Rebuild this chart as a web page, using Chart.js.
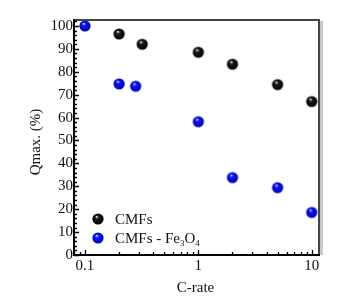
<!DOCTYPE html>
<html>
<head>
<meta charset="utf-8">
<script src="https://cdn.jsdelivr.net/npm/chart.js@4/dist/chart.umd.min.js"></script>
<style>
  html, body { margin: 0; padding: 0; background: #fff; }
  #wrap { width: 355px; height: 305px; }
</style>
</head>
<body>
<div id="wrap"><canvas id="qmaxChart" width="355" height="305"></canvas></div>
<script>
// values
const cmfRates = [0.2, 0.32, 1, 2, 5, 10];
const cmfQmax = [96.5, 92, 88.5, 83.3, 74.4, 67];
const feRates = [0.1, 0.2, 0.28, 1, 2, 5, 10];
const feQmax = [100, 74.7, 73.7, 58.2, 33.8, 29.4, 18.6];
const yTicks = [0, 10, 20, 30, 40, 50, 60, 70, 80, 90, 100];
const xTicks = [0.1, 1, 10];
const xTickLabels = ["0.1", "1", "10"];

const FONT = "'Liberation Serif', 'Times New Roman', serif";

// shaded ball used as point style
function makeBall(r, light, mid, dark) {
  const c = document.createElement("canvas");
  c.width = c.height = Math.ceil(r * 2 + 2);
  const g = c.getContext("2d");
  const cx = c.width / 2, cy = c.height / 2;
  const grad = g.createRadialGradient(cx - r * 0.25, cy - r * 0.45, r * 0.05, cx, cy, r);
  grad.addColorStop(0, light);
  grad.addColorStop(0.3, mid);
  grad.addColorStop(1, dark);
  g.fillStyle = grad;
  g.beginPath();
  g.arc(cx, cy, r, 0, Math.PI * 2);
  g.fill();
  return c;
}
const blackBall = makeBall(5.6, "#e0e0e0", "#1a1a1a", "#000000");
const blueBall = makeBall(5.6, "#c0ccff", "#0a14ff", "#0000b0");

const framePlugin = {
  id: "frame",
  afterDraw(chart) {
    const ctx = chart.ctx;
    const { left, right, top, bottom } = chart.chartArea;
    const xs = chart.scales.x, ys = chart.scales.y;
    ctx.save();

    // top + right frame with grey shadow
    ctx.strokeStyle = "#c8c8c8";
    ctx.lineWidth = 3;
    ctx.beginPath();
    ctx.moveTo(right + 2.5, top + 1);
    ctx.lineTo(right + 2.5, bottom);
    ctx.stroke();
    ctx.strokeStyle = "#444";
    ctx.lineWidth = 2;
    ctx.beginPath();
    ctx.moveTo(left, top);
    ctx.lineTo(right, top);
    ctx.lineTo(right, bottom);
    ctx.stroke();

    // left + bottom axes
    ctx.strokeStyle = "#000";
    ctx.lineWidth = 2;
    ctx.beginPath();
    ctx.moveTo(left, top - 1);
    ctx.lineTo(left, bottom);
    ctx.lineTo(right + 1, bottom);
    ctx.stroke();

    // y ticks (inward)
    ctx.lineWidth = 1.3;
    ctx.beginPath();
    for (let v = 0; v <= 102; v += 2) {
      const py = Math.round(ys.getPixelForValue(v)) + 0.5;
      const len = v % 10 === 0 ? 5 : 3;
      ctx.moveTo(left, py);
      ctx.lineTo(left + len, py);
    }
    // x ticks (inward, log)
    for (let d = 0.01; d <= 10; d *= 10) {
      for (let k = 1; k <= 9; k++) {
        const v = d * k;
        if (v < xs.min || v > xs.max) continue;
        const px = Math.round(xs.getPixelForValue(v)) + 0.5;
        const len = k === 1 ? 5 : 3;
        ctx.moveTo(px, bottom);
        ctx.lineTo(px, bottom - len);
      }
    }
    ctx.stroke();

    // tick labels
    ctx.fillStyle = "#111";
    ctx.font = "15px " + FONT;
    ctx.textAlign = "right";
    ctx.textBaseline = "middle";
    yTicks.forEach(v => ctx.fillText(String(v), left - 1, ys.getPixelForValue(v)));
    ctx.textAlign = "center";
    ctx.textBaseline = "top";
    xTicks.forEach((v, i) => ctx.fillText(xTickLabels[i], xs.getPixelForValue(v), bottom + 4));

    // axis titles
    ctx.font = "15px " + FONT;
    ctx.textBaseline = "middle";
    ctx.fillText("C-rate", (left + right) / 2 - 1, bottom + 33);
    ctx.save();
    ctx.translate(36, 142);
    ctx.rotate(-Math.PI / 2);
    ctx.fillText("Qmax. (%)", 0, 0);
    ctx.restore();

    // legend
    ctx.drawImage(blackBall, 98 - blackBall.width / 2, 219 - blackBall.height / 2);
    ctx.drawImage(blueBall, 98 - blueBall.width / 2, 238 - blueBall.height / 2);
    ctx.textAlign = "left";
    ctx.textBaseline = "alphabetic";
    ctx.font = "15px " + FONT;
    ctx.fillText("CMFs", 115, 224);
    let tx = 115;
    const parts = [["CMFs - Fe", false], ["3", true], ["O", false], ["4", true]];
    parts.forEach(([t, sub]) => {
      ctx.font = (sub ? "9px " : "15px ") + FONT;
      ctx.fillText(t, tx, sub ? 246 : 243);
      tx += ctx.measureText(t).width;
    });

    ctx.restore();
  },
};

new Chart(document.getElementById("qmaxChart"), {
  type: "scatter",
  data: {
    datasets: [
      {
        label: "CMFs - Fe3O4",
        data: feRates.map((x, i) => ({ x, y: feQmax[i] })),
        pointStyle: blueBall,
        order: 0,
      },
      {
        label: "CMFs",
        data: cmfRates.map((x, i) => ({ x, y: cmfQmax[i] })),
        pointStyle: blackBall,
        order: 1,
      },
    ],
  },
  options: {
    responsive: false,
    animation: false,
    layout: { padding: { left: 74, right: 36, top: 20, bottom: 50 } },
    plugins: { legend: { display: false }, tooltip: { enabled: false } },
    scales: {
      x: { type: "logarithmic", min: 0.08, max: 11.6, display: false },
      y: { type: "linear", min: 0, max: 102.6, display: false },
    },
  },
  plugins: [framePlugin],
});
</script>
</body>
</html>
